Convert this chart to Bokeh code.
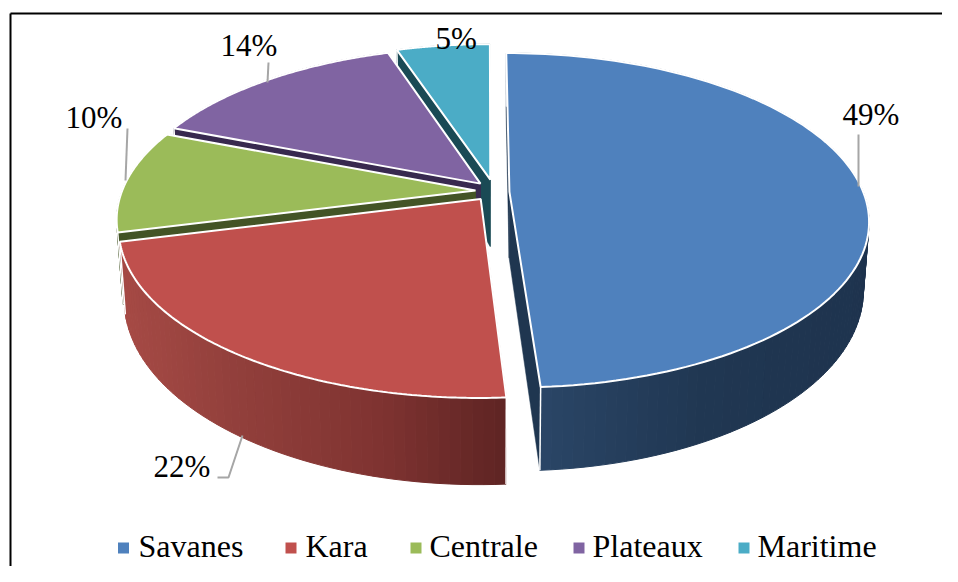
import numpy as np
from bokeh.plotting import figure
from bokeh.models import Range1d
from bokeh.core.properties import value
from bokeh.embed import file_html
from bokeh.resources import INLINE

# ---- data ----
categories = ["Savanes", "Kara", "Centrale", "Plateaux", "Maritime"]
shares = [49, 22, 10, 14, 5]

# ---- styles ----
top_colors = ["#4f81bd", "#c0504d", "#9bbb59", "#8064a2", "#4bacc6"]
cut_colors = ["#1f3650", "#5f2524", "#435426", "#38294f", "#1a4a55"]
wall_stops = [
    [(541, "#2a4566"), (700, "#203752"), (869, "#1e334e")],
    [(125, "#a64a45"), (230, "#93403c"), (380, "#7f3331"), (506, "#5e2423")],
    [(100, "#435426"), (900, "#435426")],
    [(100, "#38294f"), (900, "#38294f")],
    [(100, "#1a4a55"), (900, "#1a4a55")],
]
explode = [(0.062, 0.004), (-0.019, -0.04), (-0.034, 0.012), (-0.02, 0.055), (0.008, 0.08)]
depths = [66, 68, 68, 68, 68]

# ---- projection of the tilted pie on the page (page pixels) ----
X0, Y0, AX, BY, K, SHRINK = 487, 192, 354, 162.6, 0.17, 0.985
W, H = 942, 566
TEXT_SHIFT = 11  # the SVG text sits this far under the requested baseline


def project(px, py, depth=0):
    w = 1 + K * py
    sx = AX * px / w
    sy = -BY * py / w
    if depth:
        return X0 + SHRINK * sx, Y0 + sy * 1.02 + depth / w
    return X0 + sx, Y0 + sy


def rim(i, ang, depth=0):
    ex, ey = explode[i]
    return project(ex + np.sin(ang), ey + np.cos(ang), depth)


def hex2rgb(h):
    return np.array([int(h[j:j + 2], 16) for j in (1, 3, 5)], float)


def wall_color(i, x):
    xs = [s[0] for s in wall_stops[i]]
    rgb = np.array([hex2rgb(s[1]) for s in wall_stops[i]])
    c = [np.interp(x, xs, rgb[:, j]) for j in range(3)]
    return "#%02x%02x%02x" % tuple(int(round(v)) for v in c)


p = figure(width=W, height=H, x_range=Range1d(0, W), y_range=Range1d(H, 0),
           output_backend="svg", toolbar_location=None, min_border=0)
p.axis.visible = False
p.grid.visible = False
p.outline_line_color = None

# page frame: left and top rules only
p.line([10, 10], [H, 13], line_color="#000000", line_width=2)
p.line([10, W], [13, 13], line_color="#000000", line_width=2)

bounds = np.radians(np.cumsum([0] + shares) * 3.6)

for i in [4, 3, 2, 1, 0]:
    a0, a1 = bounds[i], bounds[i + 1]
    ex, ey = explode[i]
    d = depths[i]
    ax, ay = project(ex, ey)
    bx, by = project(ex, ey, d)
    # radial cut faces
    for a in (a0, a1):
        rx, ry = rim(i, a)
        qx, qy = rim(i, a, d)
        p.patch([ax, rx, qx, bx], [ay, ry, qy, by], fill_color=cut_colors[i],
                line_color=cut_colors[i], line_width=0.5)
    # outer wall as narrow strips
    angs = np.linspace(a0, a1, max(int(np.degrees(a1 - a0) / 1.5), 2) + 1)
    xs, ys, cols = [], [], []
    for u, v in zip(angs[:-1], angs[1:]):
        tu, tv = rim(i, u), rim(i, v)
        bu, bv = rim(i, u, d), rim(i, v, d)
        xs.append([tu[0], tv[0], bv[0], bu[0]])
        ys.append([tu[1], tv[1], bv[1], bu[1]])
        cols.append(wall_color(i, (bu[0] + bv[0]) / 2))
    p.patches(xs, ys, fill_color=cols, line_color=cols, line_width=1)
    # white seams on the wall ends
    for a in (a0, a1):
        rx, ry = rim(i, a)
        qx, qy = rim(i, a, d)
        p.line([rx, qx], [ry, qy], line_color="#ffffff", line_width=1.5)
    # top face
    arc = np.linspace(a0, a1, 120)
    pts = [rim(i, a) for a in arc]
    p.patch([ax] + [q[0] for q in pts], [ay] + [q[1] for q in pts],
            fill_color=top_colors[i], line_color="#ffffff", line_width=2)

# leader lines
leaders = [([858, 858], [134, 186]), ([127, 125], [128, 180]), ([268, 267], [62, 82]),
           ([217, 228, 242], [477, 477, 435])]
for lx, ly in leaders:
    p.line(lx, ly, line_color="#a6a6a6", line_width=2)

# data labels
lab_x = [842, 153, 65, 220, 435]
lab_y = [125, 477, 128, 56, 49]
p.text(lab_x, [y - TEXT_SHIFT for y in lab_y], text=[f"{v}%" for v in shares],
       text_font=value("Liberation Serif"), text_font_size="31px", text_color="#000000",
       text_align="left", text_baseline="alphabetic")

# legend
sq_x = [123, 290.5, 415.5, 578.5, 743.5]
txt_x = [138, 305, 429, 592, 757]
p.rect(sq_x, [547.5] * 5, width=11, height=11, fill_color=top_colors, line_color=None)
p.text(txt_x, [556 - TEXT_SHIFT] * 5, text=categories, text_font=value("Liberation Serif"),
       text_font_size="32px", text_color="#000000", text_align="left", text_baseline="alphabetic")

open("out.html", "w").write(file_html(p, INLINE))
